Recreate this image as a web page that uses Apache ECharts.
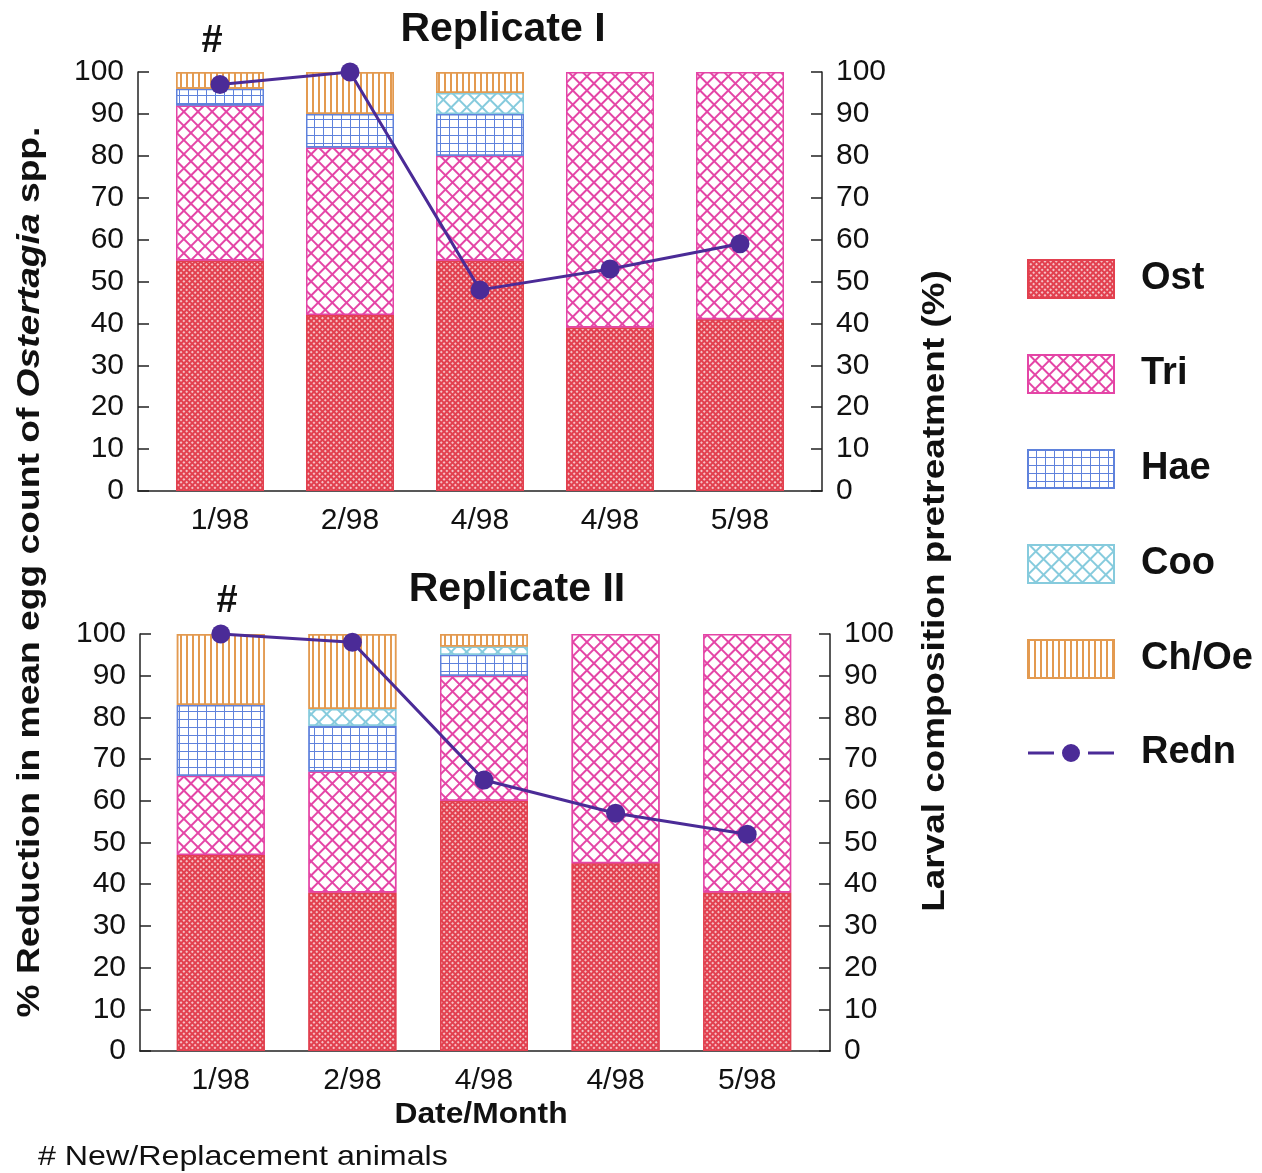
<!DOCTYPE html>
<html>
<head>
<meta charset="utf-8">
<script src="https://cdn.jsdelivr.net/npm/echarts@6/dist/echarts.min.js"></script>
<style>
html,body{margin:0;padding:0;background:#fff;}
#chart{width:1262px;height:1173px;}
</style>
</head>
<body>
<div id="chart"></div>
<script>
// ---------- DATA ----------
const categories = ['1/98', '2/98', '4/98', '4/98', '5/98'];
const seriesNames = ['Ost', 'Tri', 'Hae', 'Coo', 'Ch/Oe'];
const lineName = 'Redn';

// Replicate I (larval composition %, stacked)
const rep1Ost  = [55, 42, 55, 39, 41];
const rep1Tri  = [37, 40, 25, 61, 59];
const rep1Hae  = [4, 8, 10, 0, 0];
const rep1Coo  = [0, 0, 5, 0, 0];
const rep1ChOe = [4, 10, 5, 0, 0];
const rep1Redn = [97, 100, 48, 53, 59];

// Replicate II
const rep2Ost  = [47, 38, 60, 45, 38];
const rep2Tri  = [19, 29, 30, 55, 62];
const rep2Hae  = [17, 11, 5, 0, 0];
const rep2Coo  = [0, 4, 2, 0, 0];
const rep2ChOe = [17, 18, 3, 0, 0];
const rep2Redn = [100, 98, 65, 57, 52];

const axisMin = 0, axisMax = 100, axisInterval = 10;

// ---------- STYLE ----------
const FONT = "'Liberation Sans', Arial, sans-serif";
const TXT = '#111';
const AX = '#222';
const styles = {
  'Ost':   {color: '#e2404f', border: '#e2404f', decal: {symbol: 'circle', symbolSize: 0.9, color: '#ffffff', dashArrayX: [2, 2], dashArrayY: [2, 2], rotation: Math.PI / 4}},
  'Tri':   {color: '#e445a6', border: '#e445a6', decal: {symbol: 'rect', symbolSize: 1, color: '#ffffff', dashArrayX: [8, 2], dashArrayY: [8, 2], rotation: Math.PI / 4}},
  'Hae':   {color: '#5f82dc', border: '#5f82dc', decal: {symbol: 'rect', symbolSize: 1, color: '#ffffff', dashArrayX: [8, 1], dashArrayY: [7, 1], rotation: 0}},
  'Coo':   {color: '#86cbdd', border: '#86cbdd', decal: {symbol: 'rect', symbolSize: 1, color: '#ffffff', dashArrayX: [9, 2], dashArrayY: [9, 2], rotation: Math.PI / 4}},
  'Ch/Oe': {color: '#ffffff', border: '#e39a50', decal: {symbol: 'rect', symbolSize: 1, color: '#e39a50', dashArrayX: [2, 4], dashArrayY: [10, 0], rotation: 0}}
};
const LINE_COLOR = '#4b2b97';

const panels = [
  {frame: {left: 138, top: 72, width: 684, height: 419}, data: {left: 155, top: 72, width: 650, height: 419},
   stacks: [rep1Ost, rep1Tri, rep1Hae, rep1Coo, rep1ChOe], redn: rep1Redn},
  {frame: {left: 140, top: 634, width: 690, height: 417}, data: {left: 155, top: 634, width: 658, height: 417},
   stacks: [rep2Ost, rep2Tri, rep2Hae, rep2Coo, rep2ChOe], redn: rep2Redn}
];

const grid = [], xAxis = [], yAxis = [], series = [];
panels.forEach((p, i) => {
  const gFrame = grid.length; grid.push(p.frame);
  const gData = grid.length; grid.push(p.data);
  xAxis.push({gridIndex: gFrame, type: 'value', min: 0, max: 1,
    axisLine: {show: true, onZero: false, lineStyle: {color: AX, width: 1.5}},
    axisTick: {show: false}, axisLabel: {show: false}, splitLine: {show: false}});
  const xData = xAxis.length;
  xAxis.push({gridIndex: gData, type: 'category', data: categories,
    axisLine: {show: false}, axisTick: {show: false},
    axisLabel: {fontSize: 30, color: TXT, fontFamily: FONT, margin: 15}});
  ['left', 'right'].forEach(pos => {
    yAxis.push({gridIndex: gFrame, type: 'value', position: pos, min: axisMin, max: axisMax, interval: axisInterval,
      axisLine: {show: true, lineStyle: {color: AX, width: 1.5}},
      axisTick: {show: true, inside: true, length: 11, lineStyle: {color: AX, width: 1.5}},
      axisLabel: {fontSize: 30, color: TXT, fontFamily: FONT, margin: 14},
      splitLine: {show: false}});
  });
  const yData = yAxis.length;
  yAxis.push({gridIndex: gData, type: 'value', min: axisMin, max: axisMax, show: false, splitLine: {show: false}});

  seriesNames.forEach((name, k) => {
    const st = styles[name];
    series.push({
      type: 'bar', name: name, stack: 'rep' + i, xAxisIndex: xData, yAxisIndex: yData,
      barWidth: 88,
      data: p.stacks[k].map(v => (v === 0 ? null : v)),
      itemStyle: {color: st.color, borderColor: st.border, borderWidth: 1.5, decal: st.decal},
      emphasis: {disabled: true}
    });
  });
  series.push({
    type: 'line', name: lineName, xAxisIndex: xData, yAxisIndex: yData, data: p.redn,
    symbol: 'circle', symbolSize: 19, z: 10,
    lineStyle: {color: LINE_COLOR, width: 3}, itemStyle: {color: LINE_COLOR},
    emphasis: {disabled: true}
  });
});

const lineIcon = 'path://M0,17.5L26,17.5L26,20.5L0,20.5Z M34,19A9,9 0 1,0 52,19A9,9 0 1,0 34,19Z M60,17.5L86,17.5L86,20.5L60,20.5Z';

const chart = echarts.init(document.getElementById('chart'), null, {renderer: 'canvas'});
chart.setOption({
  animation: false,
  backgroundColor: '#fff',
  grid: grid,
  xAxis: xAxis,
  yAxis: yAxis,
  series: series,
  legend: {
    orient: 'vertical', left: 1027, top: 259, padding: 0, itemWidth: 86, itemHeight: 38, itemGap: 55,
    selectedMode: false,
    data: seriesNames.map(n => ({name: n, icon: 'rect'})).concat([{name: lineName, icon: lineIcon}]),
    textStyle: {fontSize: 38, fontWeight: 'bold', color: TXT, fontFamily: FONT, padding: [0, 0, 0, 22]}
  },
  graphic: [
    {type: 'text', x: 503, y: 30, style: {text: 'Replicate I', font: 'bold 41px ' + FONT, fill: TXT, textAlign: 'center', textVerticalAlign: 'middle'}},
    {type: 'text', x: 517, y: 590, style: {text: 'Replicate II', font: 'bold 41px ' + FONT, fill: TXT, textAlign: 'center', textVerticalAlign: 'middle'}},
    {type: 'text', x: 212, y: 42, style: {text: '#', font: 'bold 38px ' + FONT, fill: TXT, textAlign: 'center', textVerticalAlign: 'middle'}},
    {type: 'text', x: 227, y: 602, style: {text: '#', font: 'bold 38px ' + FONT, fill: TXT, textAlign: 'center', textVerticalAlign: 'middle'}},
    {type: 'text', x: 481, y: 1115, scaleX: 1.06, style: {text: 'Date/Month', font: 'bold 30px ' + FONT, fill: TXT, textAlign: 'center', textVerticalAlign: 'middle'}},
    {type: 'text', x: 38, y: 1157, scaleX: 1.15, style: {text: '# New/Replacement animals', font: '28px ' + FONT, fill: TXT, textAlign: 'left', textVerticalAlign: 'middle'}},
    {type: 'text', x: 30, y: 572, rotation: Math.PI / 2, scaleX: 1.2,
      style: {text: '{a|% Reduction in mean egg count of }{b|Ostertagia}{a| spp.}', textAlign: 'center', textVerticalAlign: 'middle',
        rich: {a: {fontSize: 31, fontWeight: 'bold', fontFamily: FONT, fill: TXT, color: TXT},
               b: {fontSize: 31, fontWeight: 'bold', fontStyle: 'italic', fontFamily: FONT, fill: TXT, color: TXT}}}},
    {type: 'text', x: 935, y: 591, rotation: Math.PI / 2, scaleX: 1.19,
      style: {text: 'Larval composition pretreatment (%)', font: 'bold 31px ' + FONT, fill: TXT, textAlign: 'center', textVerticalAlign: 'middle'}}
  ]
});
</script>
</body>
</html>
